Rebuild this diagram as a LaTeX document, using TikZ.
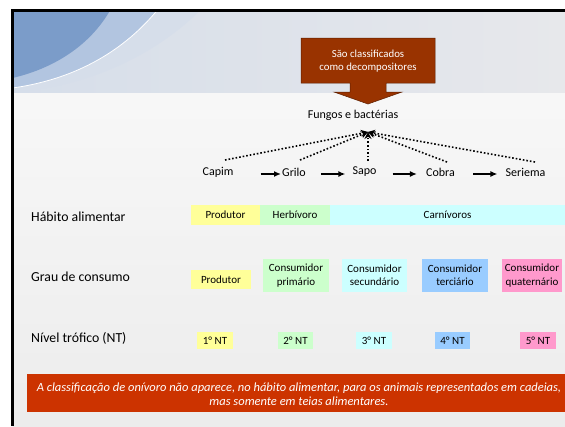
\documentclass[tikz,border=0pt]{standalone}
\usepackage{fontspec}
\setmainfont{Carlito}
\usetikzlibrary{arrows.meta,calc}
\definecolor{cyel}{HTML}{FFFF99}
\definecolor{cgrn}{HTML}{CCFFCC}
\definecolor{ccya}{HTML}{CCFFFF}
\definecolor{cblu}{HTML}{99CCFF}
\definecolor{cpnk}{HTML}{FF99CC}
\definecolor{cban}{HTML}{CC3300}
\definecolor{ccal}{HTML}{993300}
\definecolor{slidebg}{HTML}{ECECEC}
\definecolor{bandbg}{HTML}{E7E8EB}
\definecolor{bdark}{HTML}{7B9CC9}
\definecolor{bmid}{HTML}{B2C5E0}
\definecolor{blight}{HTML}{D6DEEA}
\tikzset{
  cbox/.style={inner sep=0pt, font=\fontsize{11}{13.2}\selectfont, align=center, text=black},
  rowlabel/.style={anchor=west, inner sep=0pt, font=\fontsize{13.8}{16}\selectfont},
  animal/.style={inner sep=0pt, font=\fontsize{12}{14}\selectfont},
  chainarrow/.style={-{Latex[length=7pt,width=6pt]}, line width=1.6pt},
  decarrow/.style={-{Stealth[length=7pt,width=7pt]}, dotted, line width=1.6pt},
}
\begin{document}
\begin{tikzpicture}[x=1pt,y=-1pt]
\useasboundingbox (0,0) rectangle (565,426);
% slide background
\fill[white] (0,0) rectangle (565,426);
\shade[top color=white!60!slidebg, bottom color=slidebg] (12.5,92) rectangle (565,426);
\shade[left color=blight, right color=bandbg] (12.5,10.5) rectangle (565,92);
\fill[blight] (12.5,10.5) -- (200,10.5) .. controls (150,60) and (80,88) .. (12.5,92) -- cycle;
\fill[bmid] (12.5,10.5) -- (157,10.5) .. controls (120,55) and (70,80) .. (12.5,88) -- cycle;
\draw[white, line width=0.8pt] (157,10.5) .. controls (120,55) and (70,80) .. (12.5,88);
\fill[bdark] (12.5,10.5) -- (110,10.5) .. controls (90,45) and (55,68) .. (12.5,78) -- cycle;
\draw[black, line width=3pt] (12.5,426) -- (12.5,10.5) -- (566,10.5);
% callout
\fill[ccal, draw=ccal!60!black, line width=0.5pt]
  (301,38) -- (435,38) -- (435,83) -- (386,83) -- (386,92) -- (402,92)
  -- (368,104) -- (334,92) -- (350,92) -- (350,83) -- (301,83) -- cycle;
\node[cbox, text=white, font=\fontsize{10.8}{13}\selectfont] (callout) at (368,61.5) {São classificados\\como decompositores};
\node[animal] (fungos) at (353,115) {Fungos e bactérias};
\coordinate (conv) at (368,132);
% chain
\node[animal] (capim) at (218,172) {Capim};
\node[animal] (grilo) at (294,172) {Grilo};
\node[animal] (sapo) at (364.5,172) {Sapo};
\node[animal] (cobra) at (440.5,172) {Cobra};
\node[animal] (seriema) at (525.5,172) {Seriema};
\draw[chainarrow, shorten <=27pt, shorten >=1pt] ($(capim.east)+(0,2)$) -- ($(grilo.west)+(0,2)$);
\draw[chainarrow, shorten <=15pt, shorten >=7pt] ($(grilo.east)+(0,2)$) -- ($(sapo.west)+(0,2)$);
\draw[chainarrow, shorten <=16pt, shorten >=9pt] ($(sapo.east)+(0,2)$) -- ($(cobra.west)+(0,2)$);
\draw[chainarrow, shorten <=18pt, shorten >=8pt] ($(cobra.east)+(0,2)$) -- ($(seriema.west)+(0,2)$);
\coordinate (d1) at (225,160);
\coordinate (d2) at (300,160);
\coordinate (d3) at (368,161);
\coordinate (d4) at (447,162);
\coordinate (d5) at (535,162);
\foreach \p in {d1,d2,d3,d4,d5} \draw[decarrow] (\p) -- (conv);
% row labels
\node[rowlabel] (lhab) at (31,217) {Hábito alimentar};
\node[rowlabel] (lgrau) at (31,277) {Grau de consumo};
\node[rowlabel] (lnt) at (31,338) {Nível trófico (NT)};
% habit row
\node[cbox, fill=cyel, minimum width=69pt, minimum height=20pt] (hprod) at (225.5,215) {Produtor};
\node[cbox, fill=cgrn, minimum width=70pt, minimum height=20pt] (hherb) at (295,215) {Herbívoro};
\node[cbox, fill=ccya, minimum width=235pt, minimum height=20pt] (hcarn) at (447.5,215) {Carnívoros};
% consumption row
\node[cbox, fill=cyel, minimum width=60pt, minimum height=19pt] (gprod) at (221,279.5) {Produtor};
\node[cbox, fill=cgrn, minimum width=66pt, minimum height=33pt] (gprim) at (296,275.5) {Consumidor\\primário};
\node[cbox, fill=ccya, minimum width=65pt, minimum height=33pt] (gsec) at (374.5,275.5) {Consumidor\\secundário};
\node[cbox, fill=cblu, minimum width=66pt, minimum height=33pt] (gter) at (455,275.5) {Consumidor\\terciário};
\node[cbox, fill=cpnk, minimum width=60pt, minimum height=33pt] (gqua) at (532,275.5) {Consumidor\\quaternário};
% NT row
\node[cbox, fill=cyel, minimum width=36pt, minimum height=17pt] (nt1) at (215,340.5) {1° NT};
\node[cbox, fill=cgrn, minimum width=35pt, minimum height=17pt] (nt2) at (295.5,340.5) {2° NT};
\node[cbox, fill=ccya, minimum width=36pt, minimum height=17pt] (nt3) at (374,340.5) {3° NT};
\node[cbox, fill=cblu, minimum width=35pt, minimum height=17pt] (nt4) at (452.5,340.5) {4° NT};
\node[cbox, fill=cpnk, minimum width=36pt, minimum height=17pt] (nt5) at (538,340.5) {5° NT};
% banner
\fill[cban] (27,374) rectangle (565,412);
\node[inner sep=0pt, align=center, text=white, font=\fontsize{12.5}{14}\itshape] (banner) at (299,394)
  {A classificação de onívoro não aparece, no hábito alimentar, para os animais representados em cadeias,\\mas somente em teias alimentares.};
\end{tikzpicture}
\end{document}
